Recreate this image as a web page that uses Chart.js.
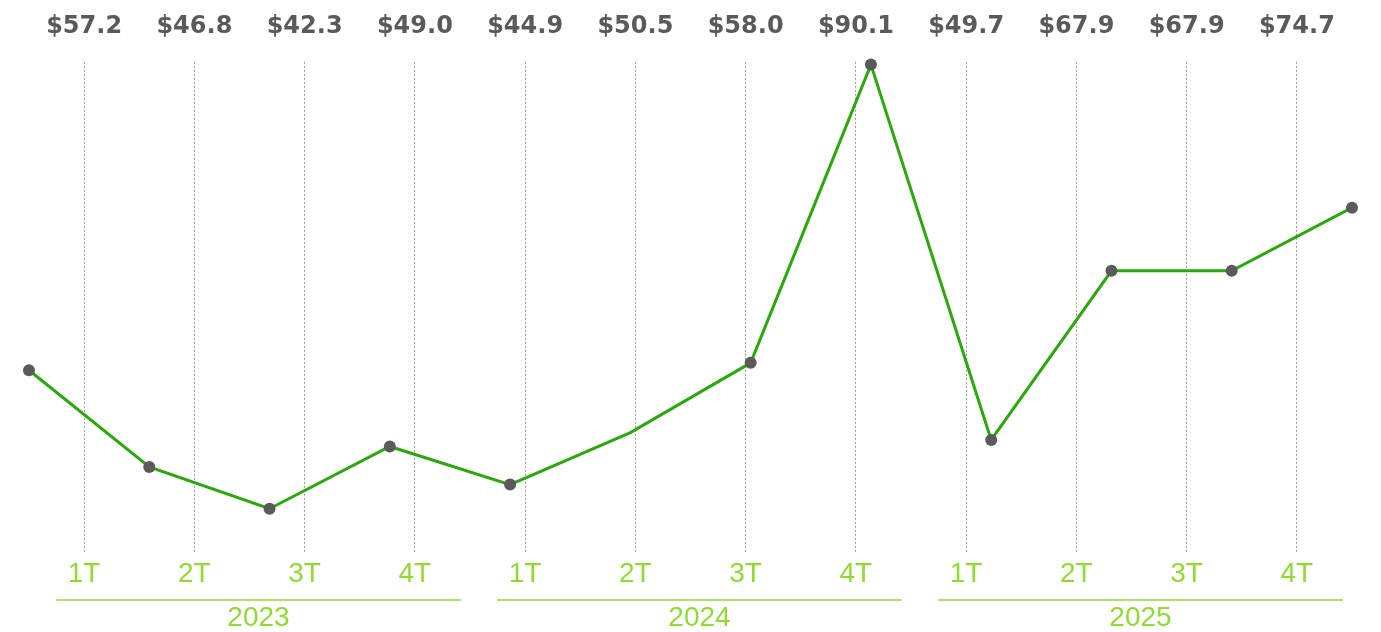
<!DOCTYPE html>
<html>
<head>
<meta charset="utf-8">
<script src="https://cdn.jsdelivr.net/npm/chart.js@4"></script>
<style>
  html, body { margin: 0; padding: 0; background: #fff; }
  #wrap { width: 1381px; height: 632px; }
</style>
</head>
<body>
<div id="wrap"><canvas id="grafico"></canvas></div>
<script>
// Dados
const trimestres = ['1T', '2T', '3T', '4T', '1T', '2T', '3T', '4T', '1T', '2T', '3T', '4T'];
const anos = ['2023', '2024', '2025'];
const valores = [57.2, 46.8, 42.3, 49.0, 44.9, 50.5, 58.0, 90.1, 49.7, 67.9, 67.9, 74.7];
const rotulosValor = valores.map(v => '$' + v.toFixed(1));

const verdeLinha = '#2aa80c';
const verdeClaro = '#8fdc2e';
const cinzaPonto = '#5a5a5c';

// Anos com linha por cima (desenhado a partir da escala x2)
const pluginAnos = {
    id: 'anos',
    afterDraw(chart) {
        const esc = chart.scales.x2;
        const ctx = chart.ctx;
        ctx.save();
        anos.forEach((ano, i) => {
            const ini = esc.getPixelForValue(i * 4) - 28;
            const fim = esc.getPixelForValue(i * 4 + 3) + 46;
            ctx.strokeStyle = verdeClaro;
            ctx.lineWidth = 1.5;
            ctx.beginPath();
            ctx.moveTo(ini, 600);
            ctx.lineTo(fim, 600);
            ctx.stroke();
            ctx.fillStyle = verdeClaro;
            ctx.font = '28px "Liberation Sans"';
            ctx.textAlign = 'center';
            ctx.textBaseline = 'middle';
            ctx.fillText(ano, (ini + fim) / 2, 618);
        });
        ctx.restore();
    }
};

new Chart(document.getElementById('grafico'), {
    type: 'line',
    data: {
        labels: trimestres,
        datasets: [{
            data: valores,
            xAxisID: 'x',
            yAxisID: 'y',
            borderColor: verdeLinha,
            borderWidth: 3,
            tension: 0,
            pointBackgroundColor: cinzaPonto,
            pointBorderColor: cinzaPonto,
            pointBorderWidth: 0,
            // o ponto do 2T de 2024 não aparece no original
            pointRadius: ctx => ctx.dataIndex === 5 ? 0 : 6,
            clip: false
        }]
    },
    options: {
        responsive: true,
        maintainAspectRatio: false,
        animation: false,
        layout: { padding: { left: 29, right: 29, top: -9, bottom: 36 } },
        plugins: { legend: { display: false }, tooltip: { enabled: false } },
        scales: {
            x: { display: false, offset: false },
            y: { display: false, min: 37.6, max: 90.4 },
            x2: {
                type: 'category',
                labels: trimestres,
                position: 'bottom',
                offset: true,
                grid: {
                    offset: false,
                    drawTicks: false,
                    color: '#9a9a9a',
                    lineWidth: 1
                },
                border: { display: false, dash: [2, 2] },
                ticks: {
                    color: verdeClaro,
                    font: { family: 'Liberation Sans', size: 28 },
                    padding: 5,
                    maxRotation: 0,
                    autoSkip: false
                }
            },
            x3: {
                type: 'category',
                labels: rotulosValor,
                position: 'top',
                offset: true,
                grid: { display: false, drawTicks: false },
                border: { display: false },
                ticks: {
                    color: cinzaPonto,
                    font: { family: 'DejaVu Sans', size: 24, weight: 'bold' },
                    padding: 21,
                    maxRotation: 0,
                    autoSkip: false
                }
            }
        }
    },
    plugins: [pluginAnos]
});
</script>
</body>
</html>
